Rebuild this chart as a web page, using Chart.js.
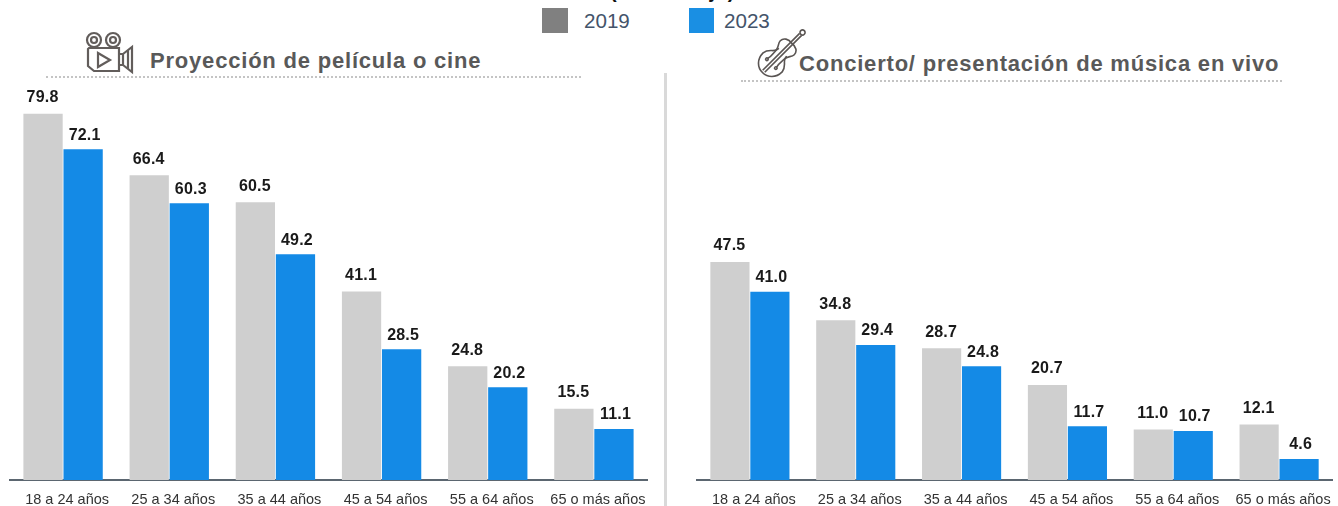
<!DOCTYPE html>
<html><head><meta charset="utf-8">
<script src="https://cdn.jsdelivr.net/npm/chart.js@4"></script>
<style>
html,body{margin:0;padding:0;background:#fff;overflow:hidden}
#page{position:relative;width:1338px;height:506px;overflow:hidden;font-family:"Liberation Sans",Arial,sans-serif}
canvas{position:absolute;top:0}
.t{position:absolute;white-space:nowrap}
.title{font-weight:700;font-size:22px;color:#595959;line-height:26px;letter-spacing:.8px}
.leg{font-size:20px;color:#44546a;line-height:24px;transform-origin:left center;transform:scaleX(1.03)}
.sw{position:absolute;top:8px;height:25px}
.dots{position:absolute;height:0;border-top:2px dotted #c4c4c4}
svg{position:absolute;overflow:visible}
</style></head><body><div id="page">
<div class="t" style="left:610px;top:-21px;font-weight:700;font-size:20px;line-height:24px;letter-spacing:.8px;color:#111;">(Porcentaje)</div>
<div class="sw" style="left:542px;width:26px;background:#808080"></div>
<div class="t leg" style="left:584px;top:9px">2019</div>
<div class="sw" style="left:689px;width:25px;background:#1a8fe3"></div>
<div class="t leg" style="left:724px;top:9px">2023</div>
<div class="t title" style="left:150px;top:48px" id="t1"></div>
<div class="t title" style="left:799px;top:51px" id="t2"></div>
<div class="dots" style="left:46px;width:535px;top:76px"></div>
<div class="dots" style="left:741px;width:541px;top:80px"></div>
<div style="position:absolute;left:664px;top:73px;width:3px;height:433px;background:#d9d9d9"></div>
<svg style="left:84px;top:30px" width="52" height="44" viewBox="0 0 52 44" fill="none" stroke="#625d5b" stroke-width="2.2">
<circle cx="10" cy="10" r="7"/><circle cx="10" cy="10" r="3"/><circle cx="29" cy="10" r="7"/><circle cx="29" cy="10" r="3"/>
<path d="M5 18H35V41H10L4 36V19Z"/><path d="M14 23L26 30L14 37Z"/><path d="M35 24H39V35H35M39 24L48 17V42L39 35"/><path d="M44 20V39"/>
</svg>
<svg style="left:757px;top:28px" width="50" height="50" viewBox="0 0 50 50" fill="none" stroke="#5a5553" stroke-width="1.8">
<g transform="translate(22 28) rotate(45) scale(.9)">
<circle cx="0" cy="-37" r="2.8"/>
<path d="M-1.6 -34V24M1.6 -34V24"/>
<path d="M0 -20C-6 -21 -11 -18 -11 -13C-11 -9 -7 -7 -7 -3C-7 1 -14 2 -15 10C-15 20 -8 26 0 26C8 26 15 20 15 10C14 2 7 1 7 -3C7 -7 11 -9 11 -13C11 -18 6 -21 0 -20Z"/>
<path d="M-6 -6C-8 0 -5 5 -7 11M6 -6C8 0 5 5 7 11"/>
<circle cx="-7" cy="12" r="1.4"/><circle cx="7" cy="12" r="1.4"/>
</g>
</svg>
<canvas id="c1" width="660" height="506" style="left:0"></canvas>
<canvas id="c2" width="668" height="506" style="left:670px"></canvas>
</div>
<script>
const categories = ["18 a 24 años","25 a 34 años","35 a 44 años","45 a 54 años","55 a 64 años","65 o más años"];
const seriesNames = ["2019","2023"];
const cine2019 = [79.8,66.4,60.5,41.1,24.8,15.5];
const cine2023 = [72.1,60.3,49.2,28.5,20.2,11.1];
const musica2019 = [47.5,34.8,28.7,20.7,11.0,12.1];
const musica2023 = [41.0,29.4,24.8,11.7,10.7,4.6];
const titleCine = "Proyección de película o cine";
const titleMusica = "Concierto/ presentación de música en vivo";
document.getElementById('t1').textContent = titleCine;
document.getElementById('t2').textContent = titleMusica;

const valueLabels = {
  id:'valueLabels',
  afterDatasetsDraw(chart){
    const ctx = chart.ctx;
    ctx.save();
    ctx.font = '700 16px "Liberation Sans", Arial, sans-serif';
    ctx.letterSpacing = '.2px';
    ctx.fillStyle = '#1a1a1a';
    ctx.textAlign = 'center';
    ctx.textBaseline = 'middle';
    chart.data.datasets.forEach((ds,i)=>{
      chart.getDatasetMeta(i).data.forEach((bar,j)=>{
        ctx.fillText(ds.data[j].toFixed(1), bar.x + (i ? 1.5 : -0.5), bar.y - (i ? 14 : 16));
      });
    });
    ctx.restore();
  }
};
function build(id,a,b,padL,padR){
  return new Chart(document.getElementById(id),{
    type:'bar',
    data:{labels:categories,datasets:[
      {label:seriesNames[0],data:a,backgroundColor:'#cfcfcf'},
      {label:seriesNames[1],data:b,backgroundColor:'#148ae6'}
    ]},
    options:{
      responsive:false,animation:false,
      layout:{padding:{left:padL,right:padR,top:67,bottom:0}},
      datasets:{bar:{categoryPercentage:.755,barPercentage:.98}},
      plugins:{legend:{display:false},tooltip:{enabled:false},title:{display:false}},
      scales:{
        y:{display:false,min:0,max:90},
        x:{
          afterFit(s){s.height=26;},
          grid:{display:false,drawTicks:false},
          border:{display:true,color:'#5b6670',width:2},
          ticks:{maxRotation:0,autoSkip:false,padding:11,labelOffset:4,color:'#333',font:{family:'"Liberation Sans", Arial, sans-serif',size:14.5}}
        }
      }
    },
    plugins:[valueLabels]
  });
}
build('c1',cine2019,cine2023,10,13);
build('c2',musica2019,musica2023,27,4);
</script></body></html>
